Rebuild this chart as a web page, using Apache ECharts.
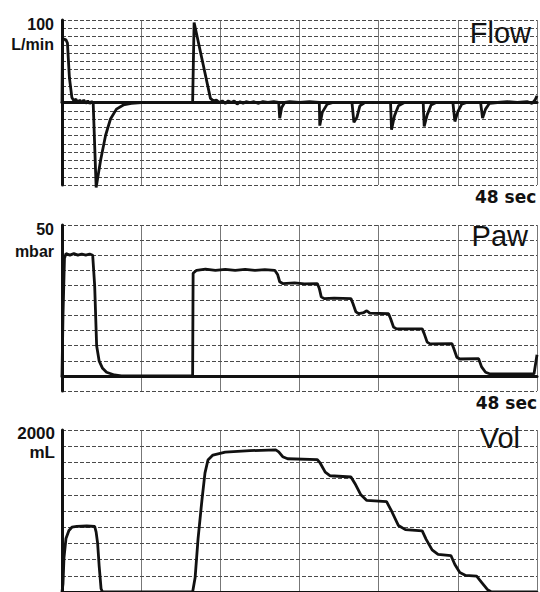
<!DOCTYPE html>
<html>
<head>
<meta charset="utf-8">
<script src="https://cdn.jsdelivr.net/npm/echarts@6/dist/echarts.min.js"></script>
<style>
  html, body { margin: 0; padding: 0; background: #fff; }
  #chart { width: 540px; height: 592px; }
</style>
</head>
<body>
<div id="chart"></div>
<script>
// Flow (L/min) over time (sec)
var flowTime = [0, 0.05, 0.2, 0.4, 0.55, 0.75, 1.0, 1.2, 1.4, 1.6, 1.8, 2.0, 2.2, 2.4, 2.6, 2.8, 3.0, 3.15,
  3.45, 3.9, 4.4, 4.9, 5.5, 6.2, 7.0, 8.0, 13.2, 13.35, 15.0, 15.3, 15.6, 15.9, 16.2, 16.5, 16.8, 17.1,
  17.4, 17.7, 18.0, 18.3, 18.6, 19.0, 19.4, 19.8, 20.3, 20.8, 21.4, 21.9, 22.0, 22.2, 22.5, 23.0, 24.0,
  25.0, 26.0, 26.05, 26.3, 26.8, 27.4, 29.3, 29.5, 29.8, 30.1, 30.6, 33.2, 33.3, 33.6, 34.0, 34.6,
  36.5, 36.6, 36.9, 37.3, 37.8, 39.5, 39.7, 40.0, 40.4, 40.9, 42.3, 42.5, 42.8, 43.2, 44.0, 45.0,
  46.0, 47.0, 47.5, 47.8, 48];
var flowValue = [0, 74, 77, 76, 72, 30, 6, 2, 4, 0, 3, -1, 3, -1, 2, -1, 1, 0,
  -103, -70, -40, -20, -8, -3, -1, 0, 0, 97, 5, 2, 3, 0, 2, -1, 2, 0,
  2, -2, 1, -1, 1, 0, 1, -1, 1, 0, 1, 0, -19, -6, 0, 1, 0,
  1, 0, -28, -12, -2, 0, 0, -24, -18, -4, 0, 0, -33, -16, -4, 0,
  0, -29, -15, -3, 0, 0, -23, -11, -2, 0, 0, -19, -8, -1, 0, 1,
  0, 1, -1, 3, 8];

// Paw (mbar)
var pawTime = [0, 0.1, 0.25, 0.4, 0.8, 1.2, 1.6, 2.0, 2.4, 2.8, 3.1, 3.3, 3.5, 3.75, 4.1, 4.5, 5.3, 6.0,
  13.2, 13.25, 13.6, 14.5, 15.5, 16.5, 17.5, 18.5, 19.5, 20.5, 21.5, 21.8, 22.0, 22.3, 23.5, 24.5,
  25.8, 26.0, 26.2, 26.5, 27.5, 29.2, 29.4, 29.7, 30.0, 30.5, 30.8, 31.1, 33.0, 33.2, 33.5, 33.8,
  36.4, 36.6, 36.9, 37.2, 39.4, 39.6, 39.9, 40.2, 42.1, 42.4, 42.8, 43.2, 47.7, 48];
var pawValue = [0, 20, 39, 40.5, 40, 40.5, 40, 40.4, 40, 40.4, 40, 30, 10, 5, 2.5, 1.2, 0.3, 0,
  0, 34, 35, 35.4, 35, 35.3, 35, 35.3, 35, 35.2, 35, 33.5, 31.2, 30.6, 30.8, 30.5,
  30.6, 29, 26.2, 25.6, 25.8, 25.6, 24, 21.2, 20.6, 21.0, 21.6, 20.8, 20.6, 19, 16.2, 15.6,
  15.6, 14, 11.2, 10.6, 10.7, 9, 6.2, 5.6, 5.7, 3, 1.2, 0.7, 0.7, 7];

// Vol (mL)
var volTime = [0, 0.1, 0.2, 0.4, 0.7, 1.0, 1.5, 2.5, 3.3, 3.45, 3.6, 3.75, 3.95, 4.1, 13.2, 13.45,
  13.75, 14.15, 14.45, 14.75, 15.25, 16.5, 19.0, 21.6, 21.9, 22.3, 22.8, 25.8, 26.1, 26.6, 27.1,
  29.2, 29.6, 30.2, 30.8, 32.8, 33.3, 34.0, 34.7, 36.4, 36.8, 37.4, 38.0, 39.3, 39.7, 40.2, 40.8,
  41.9, 42.4, 43.0, 43.4, 48];
var volValue = [0, 100, 420, 660, 760, 800, 810, 815, 810, 740, 600, 330, 40, 0, 0, 175,
  660, 1145, 1470, 1630, 1690, 1727, 1745, 1755, 1730, 1670, 1645, 1635, 1590, 1480, 1435,
  1420, 1340, 1200, 1130, 1115, 1000, 820, 770, 755, 650, 520, 465, 450, 340, 240, 205,
  195, 120, 30, 0, 0];

var panelNames = ['Flow', 'Paw', 'Vol'];
var maxLabels = ['100', '50', '2000'];
var unitLabels = ['L/min', 'mbar', 'mL'];
var timeLabel = '48 sec';

function pairs(t, v) {
  return t.map(function (x, i) { return [x, v[i]]; });
}

var chart = echarts.init(document.getElementById('chart'), null, { renderer: 'svg' });

// dotted horizontal rulings, thin vertical ones
var hGrid = { show: true, lineStyle: { color: '#2a2a2a', width: 1, type: [4, 2], opacity: 0.85 } };
var vGrid = { show: true, lineStyle: { color: '#555', width: 1, type: 'solid', opacity: 0.8 } };

function xAxisFor(i) {
  return {
    type: 'value', gridIndex: i, min: 0, max: 48, interval: 8,
    axisLine: { show: true, onZero: true, lineStyle: { color: '#111', width: 3 } },
    axisTick: { show: false }, axisLabel: { show: false },
    splitLine: vGrid
  };
}
function yAxisFor(i, min, max, step) {
  return {
    type: 'value', gridIndex: i, min: min, max: max, interval: step,
    axisLine: { show: true, onZero: false, lineStyle: { color: '#111', width: 3 } },
    axisTick: { show: false }, axisLabel: { show: false },
    splitLine: hGrid
  };
}
function traceFor(i, data) {
  return {
    type: 'line', xAxisIndex: i, yAxisIndex: i, data: data,
    symbol: 'none', clip: false, smooth: false,
    lineStyle: { color: '#111', width: 2.8 }
  };
}

var labelFont = 'bold 16px "Liberation Sans", Arial, sans-serif';
var titleFont = '29px "Liberation Sans", Arial, sans-serif';
var secFont = 'bold 17px "DejaVu Sans", sans-serif';

function text(str, x, y, font, align) {
  return {
    type: 'text', x: x, y: y, silent: true,
    style: { text: str, font: font, fill: '#111', textAlign: align, textVerticalAlign: 'middle' }
  };
}

var option = {
  animation: false,
  backgroundColor: '#fff',
  grid: [
    { left: 62, right: 3, top: 20, bottom: 407 },
    { left: 62, right: 3, top: 225, bottom: 201 },
    { left: 62, right: 3, top: 430, bottom: -3 }
  ],
  xAxis: [xAxisFor(0), xAxisFor(1), xAxisFor(2)],
  yAxis: [
    yAxisFor(0, -100, 100, 10),
    yAxisFor(1, -5, 50, 5),
    yAxisFor(2, 0, 2000, 200)
  ],
  series: [
    traceFor(0, pairs(flowTime, flowValue)),
    traceFor(1, pairs(pawTime, pawValue)),
    traceFor(2, pairs(volTime, volValue))
  ],
  graphic: [
    text(maxLabels[0], 54, 24, labelFont, 'right'),
    text(unitLabels[0], 54, 44, labelFont, 'right'),
    text(maxLabels[1], 54, 229, labelFont, 'right'),
    text(unitLabels[1], 54, 251, labelFont, 'right'),
    text(maxLabels[2], 55, 433, 'bold 17px "Liberation Sans", Arial, sans-serif', 'right'),
    text(unitLabels[2], 55, 452, 'bold 17px "Liberation Sans", Arial, sans-serif', 'right'),
    text(panelNames[0], 531, 33, titleFont, 'right'),
    text(panelNames[1], 528, 236, titleFont, 'right'),
    text(panelNames[2], 520, 438, titleFont, 'right'),
    text(timeLabel, 475, 197, secFont, 'left'),
    text(timeLabel, 537, 403, secFont, 'right')
  ]
};

chart.setOption(option);
</script>
</body>
</html>
